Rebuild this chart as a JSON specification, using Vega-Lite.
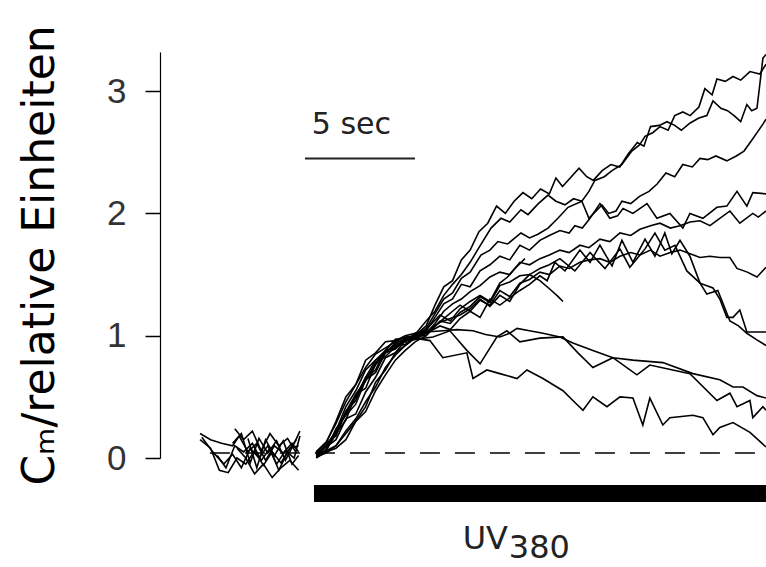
{
"$schema": "https://vega.github.io/schema/vega-lite/v6.json",
"width": 606, "height": 406,
"autosize": {"type": "none"},
"padding": {"left": 160, "top": 52, "right": 0, "bottom": 109},
"background": "white",
"config": {"view": {"stroke": null}},
"datasets": {
"traces": [
{"s":"P1","t":1.82,"v":0.2},{"s":"P1","t":2.3,"v":0.15},{"s":"P1","t":2.8,"v":0.12},{"s":"P1","t":3.3,"v":0.1},{"s":"P1","t":3.6,"v":0.18},{"s":"P1","t":4.0,"v":0.05},{"s":"P1","t":4.4,"v":0.12},{"s":"P1","t":4.8,"v":-0.02},{"s":"P1","t":5.2,"v":0.1},{"s":"P1","t":5.6,"v":0.04},{"s":"P1","t":6.0,"v":0.12},{"s":"P1","t":6.3,"v":0.05},
{"s":"P2","t":1.9,"v":0.17},{"s":"P2","t":2.4,"v":0.05},{"s":"P2","t":2.9,"v":-0.05},{"s":"P2","t":3.3,"v":0.03},{"s":"P2","t":3.7,"v":-0.08},{"s":"P2","t":4.1,"v":0.08},{"s":"P2","t":4.5,"v":0.0},{"s":"P2","t":4.9,"v":0.1},{"s":"P2","t":5.3,"v":-0.05},{"s":"P2","t":5.7,"v":0.06},{"s":"P2","t":6.1,"v":0.0},{"s":"P2","t":6.36,"v":0.18},
{"s":"P3","t":1.82,"v":0.15},{"s":"P3","t":2.3,"v":0.08},{"s":"P3","t":2.7,"v":-0.1},{"s":"P3","t":3.1,"v":-0.12},{"s":"P3","t":3.5,"v":0.0},{"s":"P3","t":3.9,"v":-0.05},{"s":"P3","t":4.3,"v":0.06},{"s":"P3","t":4.7,"v":-0.06},{"s":"P3","t":5.1,"v":0.05},{"s":"P3","t":5.5,"v":-0.04},{"s":"P3","t":5.9,"v":0.08},{"s":"P3","t":6.3,"v":0.1},
{"s":"P4","t":3.4,"v":0.24},{"s":"P4","t":3.8,"v":0.15},{"s":"P4","t":4.2,"v":0.22},{"s":"P4","t":4.6,"v":0.06},{"s":"P4","t":5.0,"v":0.2},{"s":"P4","t":5.4,"v":0.1},{"s":"P4","t":5.8,"v":0.16},{"s":"P4","t":6.2,"v":0.04},
{"s":"P5","t":3.3,"v":0.12},{"s":"P5","t":3.7,"v":0.2},{"s":"P5","t":4.1,"v":-0.04},{"s":"P5","t":4.5,"v":0.16},{"s":"P5","t":4.9,"v":0.04},{"s":"P5","t":5.3,"v":0.14},{"s":"P5","t":5.7,"v":-0.02},{"s":"P5","t":6.1,"v":0.12},{"s":"P5","t":6.36,"v":0.22},
{"s":"P6","t":3.5,"v":0.08},{"s":"P6","t":3.9,"v":0.0},{"s":"P6","t":4.3,"v":-0.13},{"s":"P6","t":4.7,"v":-0.05},{"s":"P6","t":5.1,"v":-0.16},{"s":"P6","t":5.5,"v":-0.08},{"s":"P6","t":5.9,"v":-0.02},{"s":"P6","t":6.3,"v":-0.1},
{"s":"P7","t":2.6,"v":0.02},{"s":"P7","t":3.0,"v":-0.08},{"s":"P7","t":3.4,"v":0.1},{"s":"P7","t":3.8,"v":0.05},{"s":"P7","t":4.2,"v":0.12},{"s":"P7","t":4.6,"v":-0.02},{"s":"P7","t":5.0,"v":0.08},{"s":"P7","t":5.4,"v":-0.1},{"s":"P7","t":5.8,"v":0.05},{"s":"P7","t":6.2,"v":0.15},
{"s":"P8","t":4.0,"v":0.16},{"s":"P8","t":4.4,"v":-0.08},{"s":"P8","t":4.8,"v":0.15},{"s":"P8","t":5.2,"v":0.02},{"s":"P8","t":5.6,"v":0.14},{"s":"P8","t":6.0,"v":-0.05},{"s":"P8","t":6.3,"v":0.02},

{"s":"T1","t":7.1,"v":0.05},{"s":"T1","t":7.55,"v":0.12},{"s":"T1","t":8.0,"v":0.18},{"s":"T1","t":8.45,"v":0.38},{"s":"T1","t":8.9,"v":0.47},{"s":"T1","t":9.35,"v":0.66},{"s":"T1","t":9.8,"v":0.72},{"s":"T1","t":10.25,"v":0.88},{"s":"T1","t":10.7,"v":0.9},{"s":"T1","t":11.15,"v":0.98},{"s":"T1","t":11.6,"v":1.0},
{"s":"T1","t":12.1,"v":1.08},{"s":"T1","t":12.5,"v":1.25},{"s":"T1","t":12.9,"v":1.4},{"s":"T1","t":13.3,"v":1.45},{"s":"T1","t":13.7,"v":1.62},{"s":"T1","t":14.1,"v":1.7},{"s":"T1","t":14.5,"v":1.85},{"s":"T1","t":14.9,"v":1.92},{"s":"T1","t":15.3,"v":2.06},{"s":"T1","t":15.7,"v":2.0},{"s":"T1","t":16.1,"v":2.1},{"s":"T1","t":16.5,"v":2.17},{"s":"T1","t":16.9,"v":2.12},{"s":"T1","t":17.3,"v":2.2},{"s":"T1","t":17.7,"v":2.16},{"s":"T1","t":18.0,"v":2.29},{"s":"T1","t":18.3,"v":2.22},{"s":"T1","t":18.7,"v":2.3},{"s":"T1","t":19.05,"v":2.37},{"s":"T1","t":19.4,"v":2.3},{"s":"T1","t":19.7,"v":2.27},{"s":"T1","t":20.1,"v":2.35},{"s":"T1","t":20.5,"v":2.4},{"s":"T1","t":20.9,"v":2.38},{"s":"T1","t":21.3,"v":2.49},{"s":"T1","t":21.7,"v":2.58},{"s":"T1","t":22.0,"v":2.55},{"s":"T1","t":22.3,"v":2.71},{"s":"T1","t":22.7,"v":2.72},{"s":"T1","t":23.05,"v":2.75},{"s":"T1","t":23.4,"v":2.72},{"s":"T1","t":23.7,"v":2.68},{"s":"T1","t":24.1,"v":2.74},{"s":"T1","t":24.5,"v":2.78},{"s":"T1","t":24.86,"v":2.8},{"s":"T1","t":25.14,"v":2.92},{"s":"T1","t":25.5,"v":2.86},{"s":"T1","t":25.8,"v":2.84},{"s":"T1","t":26.1,"v":2.8},{"s":"T1","t":26.4,"v":2.75},{"s":"T1","t":26.68,"v":2.89},{"s":"T1","t":26.9,"v":2.84},{"s":"T1","t":27.14,"v":2.86},{"s":"T1","t":27.41,"v":3.27},{"s":"T1","t":27.55,"v":3.3},

{"s":"T2","t":7.1,"v":0.02},{"s":"T2","t":7.55,"v":0.1},{"s":"T2","t":8.0,"v":0.22},{"s":"T2","t":8.45,"v":0.42},{"s":"T2","t":8.9,"v":0.55},{"s":"T2","t":9.35,"v":0.72},{"s":"T2","t":9.8,"v":0.8},{"s":"T2","t":10.25,"v":0.86},{"s":"T2","t":10.7,"v":0.93},{"s":"T2","t":11.15,"v":0.95},{"s":"T2","t":11.6,"v":1.01},
{"s":"T2","t":12.1,"v":1.12},{"s":"T2","t":12.5,"v":1.2},{"s":"T2","t":12.9,"v":1.33},{"s":"T2","t":13.3,"v":1.42},{"s":"T2","t":13.7,"v":1.5},{"s":"T2","t":14.1,"v":1.6},{"s":"T2","t":14.5,"v":1.72},{"s":"T2","t":15.05,"v":1.88},{"s":"T2","t":15.5,"v":1.96},{"s":"T2","t":15.9,"v":1.93},{"s":"T2","t":16.41,"v":2.03},{"s":"T2","t":16.73,"v":1.99},{"s":"T2","t":17.2,"v":2.08},{"s":"T2","t":17.64,"v":2.15},{"s":"T2","t":18.0,"v":2.1},{"s":"T2","t":18.41,"v":2.07},{"s":"T2","t":18.8,"v":2.12},{"s":"T2","t":19.18,"v":2.1},{"s":"T2","t":19.5,"v":2.18},{"s":"T2","t":19.77,"v":2.27},{"s":"T2","t":20.2,"v":2.3},{"s":"T2","t":20.55,"v":2.35},{"s":"T2","t":21.0,"v":2.4},{"s":"T2","t":21.45,"v":2.51},{"s":"T2","t":21.8,"v":2.56},{"s":"T2","t":22.05,"v":2.63},{"s":"T2","t":22.4,"v":2.66},{"s":"T2","t":22.73,"v":2.71},{"s":"T2","t":23.1,"v":2.68},{"s":"T2","t":23.4,"v":2.8},{"s":"T2","t":23.77,"v":2.83},{"s":"T2","t":24.1,"v":2.8},{"s":"T2","t":24.5,"v":2.87},{"s":"T2","t":24.77,"v":3.02},{"s":"T2","t":25.1,"v":2.97},{"s":"T2","t":25.32,"v":3.1},{"s":"T2","t":25.7,"v":3.08},{"s":"T2","t":26.05,"v":3.12},{"s":"T2","t":26.4,"v":3.09},{"s":"T2","t":26.82,"v":3.16},{"s":"T2","t":27.27,"v":3.14},{"s":"T2","t":27.55,"v":3.22},

{"s":"T3","t":7.1,"v":0.04},{"s":"T3","t":7.55,"v":0.06},{"s":"T3","t":8.0,"v":0.24},{"s":"T3","t":8.45,"v":0.35},{"s":"T3","t":8.9,"v":0.44},{"s":"T3","t":9.35,"v":0.64},{"s":"T3","t":9.8,"v":0.7},{"s":"T3","t":10.25,"v":0.86},{"s":"T3","t":10.7,"v":0.89},{"s":"T3","t":11.15,"v":0.97},{"s":"T3","t":11.6,"v":0.99},
{"s":"T3","t":12.1,"v":1.06},{"s":"T3","t":12.5,"v":1.18},{"s":"T3","t":12.9,"v":1.3},{"s":"T3","t":13.3,"v":1.35},{"s":"T3","t":13.7,"v":1.47},{"s":"T3","t":14.1,"v":1.52},{"s":"T3","t":14.59,"v":1.66},{"s":"T3","t":15.0,"v":1.7},{"s":"T3","t":15.36,"v":1.77},{"s":"T3","t":15.8,"v":1.75},{"s":"T3","t":16.41,"v":1.84},{"s":"T3","t":16.8,"v":1.8},{"s":"T3","t":17.18,"v":1.83},{"s":"T3","t":17.64,"v":1.88},{"s":"T3","t":18.09,"v":1.96},{"s":"T3","t":18.55,"v":2.05},{"s":"T3","t":19.18,"v":2.1},{"s":"T3","t":19.5,"v":1.96},{"s":"T3","t":20.09,"v":2.07},{"s":"T3","t":20.4,"v":2.0},{"s":"T3","t":20.73,"v":2.02},{"s":"T3","t":21.0,"v":2.1},{"s":"T3","t":21.4,"v":2.08},{"s":"T3","t":21.8,"v":2.14},{"s":"T3","t":22.23,"v":2.18},{"s":"T3","t":22.6,"v":2.24},{"s":"T3","t":23.0,"v":2.33},{"s":"T3","t":23.4,"v":2.3},{"s":"T3","t":23.77,"v":2.4},{"s":"T3","t":24.2,"v":2.38},{"s":"T3","t":24.55,"v":2.45},{"s":"T3","t":24.9,"v":2.44},{"s":"T3","t":25.27,"v":2.47},{"s":"T3","t":25.77,"v":2.43},{"s":"T3","t":26.2,"v":2.47},{"s":"T3","t":26.55,"v":2.51},{"s":"T3","t":26.95,"v":2.61},{"s":"T3","t":27.41,"v":2.73},{"s":"T3","t":27.55,"v":2.77},

{"s":"T4","t":7.1,"v":0.01},{"s":"T4","t":7.55,"v":0.04},{"s":"T4","t":8.0,"v":0.1},{"s":"T4","t":8.45,"v":0.2},{"s":"T4","t":8.9,"v":0.3},{"s":"T4","t":9.35,"v":0.42},{"s":"T4","t":9.8,"v":0.62},{"s":"T4","t":10.25,"v":0.72},{"s":"T4","t":10.7,"v":0.86},{"s":"T4","t":11.15,"v":0.92},{"s":"T4","t":11.6,"v":0.99},
{"s":"T4","t":12.1,"v":1.04},{"s":"T4","t":12.5,"v":1.15},{"s":"T4","t":12.9,"v":1.26},{"s":"T4","t":13.3,"v":1.3},{"s":"T4","t":13.7,"v":1.42},{"s":"T4","t":14.1,"v":1.4},{"s":"T4","t":14.55,"v":1.53},{"s":"T4","t":15.0,"v":1.58},{"s":"T4","t":15.45,"v":1.65},{"s":"T4","t":15.9,"v":1.62},{"s":"T4","t":16.36,"v":1.74},{"s":"T4","t":16.8,"v":1.7},{"s":"T4","t":17.27,"v":1.78},{"s":"T4","t":17.7,"v":1.82},{"s":"T4","t":18.18,"v":1.86},{"s":"T4","t":18.6,"v":1.84},{"s":"T4","t":18.86,"v":1.9},{"s":"T4","t":19.2,"v":1.88},{"s":"T4","t":19.55,"v":1.96},{"s":"T4","t":20.0,"v":2.08},{"s":"T4","t":20.45,"v":1.96},{"s":"T4","t":20.8,"v":1.98},{"s":"T4","t":21.05,"v":2.04},{"s":"T4","t":21.5,"v":2.0},{"s":"T4","t":22.14,"v":2.08},{"s":"T4","t":22.59,"v":1.96},{"s":"T4","t":23.18,"v":2.0},{"s":"T4","t":23.77,"v":1.88},{"s":"T4","t":24.09,"v":2.0},{"s":"T4","t":24.68,"v":1.96},{"s":"T4","t":25.32,"v":2.05},{"s":"T4","t":25.77,"v":2.06},{"s":"T4","t":26.23,"v":2.18},{"s":"T4","t":26.68,"v":2.06},{"s":"T4","t":26.95,"v":2.17},{"s":"T4","t":27.55,"v":2.16},

{"s":"T5","t":7.1,"v":0.03},{"s":"T5","t":7.55,"v":0.09},{"s":"T5","t":8.0,"v":0.15},{"s":"T5","t":8.45,"v":0.32},{"s":"T5","t":8.9,"v":0.36},{"s":"T5","t":9.35,"v":0.54},{"s":"T5","t":9.8,"v":0.66},{"s":"T5","t":10.25,"v":0.82},{"s":"T5","t":10.7,"v":0.86},{"s":"T5","t":11.15,"v":0.96},{"s":"T5","t":11.6,"v":0.97},
{"s":"T5","t":12.1,"v":1.02},{"s":"T5","t":12.5,"v":1.1},{"s":"T5","t":12.9,"v":1.2},{"s":"T5","t":13.3,"v":1.26},{"s":"T5","t":13.7,"v":1.3},{"s":"T5","t":14.1,"v":1.36},{"s":"T5","t":14.55,"v":1.41},{"s":"T5","t":15.0,"v":1.48},{"s":"T5","t":15.45,"v":1.52},{"s":"T5","t":15.9,"v":1.5},{"s":"T5","t":16.36,"v":1.6},{"s":"T5","t":16.8,"v":1.58},{"s":"T5","t":17.27,"v":1.63},{"s":"T5","t":17.7,"v":1.66},{"s":"T5","t":18.18,"v":1.7},{"s":"T5","t":18.6,"v":1.68},{"s":"T5","t":19.09,"v":1.74},{"s":"T5","t":19.5,"v":1.72},{"s":"T5","t":20.0,"v":1.79},{"s":"T5","t":20.45,"v":1.77},{"s":"T5","t":20.91,"v":1.84},{"s":"T5","t":21.4,"v":1.82},{"s":"T5","t":21.82,"v":1.87},{"s":"T5","t":22.3,"v":1.9},{"s":"T5","t":22.73,"v":1.92},{"s":"T5","t":23.2,"v":1.88},{"s":"T5","t":23.64,"v":1.9},{"s":"T5","t":24.1,"v":1.93},{"s":"T5","t":24.55,"v":1.94},{"s":"T5","t":25.0,"v":1.9},{"s":"T5","t":25.45,"v":1.96},{"s":"T5","t":25.91,"v":2.02},{"s":"T5","t":26.36,"v":1.92},{"s":"T5","t":26.95,"v":2.0},{"s":"T5","t":27.2,"v":1.97},{"s":"T5","t":27.55,"v":2.02},

{"s":"T6","t":7.1,"v":0.02},{"s":"T6","t":7.55,"v":0.06},{"s":"T6","t":8.0,"v":0.2},{"s":"T6","t":8.45,"v":0.31},{"s":"T6","t":8.9,"v":0.52},{"s":"T6","t":9.35,"v":0.57},{"s":"T6","t":9.8,"v":0.77},{"s":"T6","t":10.25,"v":0.83},{"s":"T6","t":10.7,"v":0.91},{"s":"T6","t":11.15,"v":0.93},{"s":"T6","t":11.6,"v":1.0},
{"s":"T6","t":12.1,"v":1.0},{"s":"T6","t":12.5,"v":1.08},{"s":"T6","t":12.9,"v":1.14},{"s":"T6","t":13.3,"v":1.2},{"s":"T6","t":13.64,"v":1.25},{"s":"T6","t":14.1,"v":1.2},{"s":"T6","t":14.55,"v":1.29},{"s":"T6","t":15.0,"v":1.25},{"s":"T6","t":15.45,"v":1.37},{"s":"T6","t":15.9,"v":1.32},{"s":"T6","t":16.36,"v":1.43},{"s":"T6","t":16.8,"v":1.46},{"s":"T6","t":17.27,"v":1.52},{"s":"T6","t":17.7,"v":1.5},{"s":"T6","t":18.18,"v":1.57},{"s":"T6","t":18.6,"v":1.55},{"s":"T6","t":19.09,"v":1.6},{"s":"T6","t":19.5,"v":1.62},{"s":"T6","t":20.0,"v":1.63},{"s":"T6","t":20.45,"v":1.6},{"s":"T6","t":20.91,"v":1.65},{"s":"T6","t":21.4,"v":1.68},{"s":"T6","t":21.82,"v":1.66},{"s":"T6","t":22.3,"v":1.7},{"s":"T6","t":22.73,"v":1.65},{"s":"T6","t":23.2,"v":1.68},{"s":"T6","t":23.64,"v":1.7},{"s":"T6","t":24.1,"v":1.67},{"s":"T6","t":24.55,"v":1.64},{"s":"T6","t":25.0,"v":1.65},{"s":"T6","t":25.45,"v":1.64},{"s":"T6","t":25.91,"v":1.64},{"s":"T6","t":26.23,"v":1.55},{"s":"T6","t":26.7,"v":1.52},{"s":"T6","t":27.14,"v":1.48},{"s":"T6","t":27.55,"v":1.56},

{"s":"T7","t":7.1,"v":0.05},{"s":"T7","t":7.55,"v":0.13},{"s":"T7","t":8.0,"v":0.28},{"s":"T7","t":8.45,"v":0.46},{"s":"T7","t":8.9,"v":0.6},{"s":"T7","t":9.35,"v":0.74},{"s":"T7","t":9.8,"v":0.85},{"s":"T7","t":10.25,"v":0.9},{"s":"T7","t":10.7,"v":0.95},{"s":"T7","t":11.15,"v":0.99},{"s":"T7","t":11.6,"v":1.0},
{"s":"T7","t":12.1,"v":1.02},{"s":"T7","t":12.73,"v":1.08},{"s":"T7","t":13.2,"v":1.05},{"s":"T7","t":13.64,"v":1.14},{"s":"T7","t":14.1,"v":1.2},{"s":"T7","t":14.55,"v":1.15},{"s":"T7","t":15.0,"v":1.3},{"s":"T7","t":15.45,"v":1.25},{"s":"T7","t":15.9,"v":1.31},{"s":"T7","t":16.36,"v":1.37},{"s":"T7","t":16.8,"v":1.42},{"s":"T7","t":17.27,"v":1.49},{"s":"T7","t":17.6,"v":1.45},{"s":"T7","t":17.95,"v":1.6},{"s":"T7","t":18.41,"v":1.53},{"s":"T7","t":19.09,"v":1.7},{"s":"T7","t":19.55,"v":1.6},{"s":"T7","t":20.0,"v":1.74},{"s":"T7","t":20.55,"v":1.57},{"s":"T7","t":21.0,"v":1.78},{"s":"T7","t":21.5,"v":1.6},{"s":"T7","t":22.05,"v":1.79},{"s":"T7","t":22.5,"v":1.65},{"s":"T7","t":22.95,"v":1.84},{"s":"T7","t":23.27,"v":1.67},{"s":"T7","t":23.64,"v":1.78},{"s":"T7","t":24.09,"v":1.65},{"s":"T7","t":24.55,"v":1.43},{"s":"T7","t":25.14,"v":1.39},{"s":"T7","t":25.45,"v":1.3},{"s":"T7","t":25.77,"v":1.15},{"s":"T7","t":26.05,"v":1.15},{"s":"T7","t":26.36,"v":1.21},{"s":"T7","t":26.68,"v":1.03},{"s":"T7","t":27.1,"v":1.03},{"s":"T7","t":27.55,"v":1.03},

{"s":"T8","t":7.1,"v":0.0},{"s":"T8","t":7.55,"v":0.05},{"s":"T8","t":8.0,"v":0.08},{"s":"T8","t":8.45,"v":0.15},{"s":"T8","t":8.9,"v":0.3},{"s":"T8","t":9.35,"v":0.38},{"s":"T8","t":9.8,"v":0.55},{"s":"T8","t":10.25,"v":0.68},{"s":"T8","t":10.7,"v":0.8},{"s":"T8","t":11.15,"v":0.88},{"s":"T8","t":11.6,"v":0.95},
{"s":"T8","t":12.1,"v":1.0},{"s":"T8","t":12.73,"v":1.12},{"s":"T8","t":13.2,"v":1.1},{"s":"T8","t":13.64,"v":1.19},{"s":"T8","t":14.1,"v":1.24},{"s":"T8","t":14.55,"v":1.32},{"s":"T8","t":15.0,"v":1.27},{"s":"T8","t":15.45,"v":1.41},{"s":"T8","t":15.9,"v":1.44},{"s":"T8","t":16.36,"v":1.49},{"s":"T8","t":16.8,"v":1.5},{"s":"T8","t":17.27,"v":1.55},{"s":"T8","t":17.7,"v":1.58},{"s":"T8","t":18.18,"v":1.63},{"s":"T8","t":18.86,"v":1.53},{"s":"T8","t":19.55,"v":1.68},{"s":"T8","t":20.23,"v":1.55},{"s":"T8","t":20.91,"v":1.71},{"s":"T8","t":21.36,"v":1.56},{"s":"T8","t":22.05,"v":1.71},{"s":"T8","t":22.5,"v":1.84},{"s":"T8","t":22.95,"v":1.7},{"s":"T8","t":23.41,"v":1.74},{"s":"T8","t":23.95,"v":1.53},{"s":"T8","t":24.55,"v":1.43},{"s":"T8","t":24.86,"v":1.34},{"s":"T8","t":25.36,"v":1.37},{"s":"T8","t":25.91,"v":1.12},{"s":"T8","t":26.3,"v":1.08},{"s":"T8","t":26.68,"v":1.02},{"s":"T8","t":27.1,"v":0.97},{"s":"T8","t":27.55,"v":0.92},

{"s":"T9","t":7.1,"v":0.03},{"s":"T9","t":7.55,"v":0.1},{"s":"T9","t":8.0,"v":0.2},{"s":"T9","t":8.45,"v":0.38},{"s":"T9","t":8.9,"v":0.52},{"s":"T9","t":9.35,"v":0.64},{"s":"T9","t":9.8,"v":0.76},{"s":"T9","t":10.25,"v":0.87},{"s":"T9","t":10.7,"v":0.92},{"s":"T9","t":11.15,"v":0.95},{"s":"T9","t":11.6,"v":1.02},
{"s":"T9","t":12.1,"v":1.05},{"s":"T9","t":12.73,"v":1.17},{"s":"T9","t":13.2,"v":1.12},{"s":"T9","t":13.64,"v":1.22},{"s":"T9","t":14.1,"v":1.28},{"s":"T9","t":14.55,"v":1.33},{"s":"T9","t":15.0,"v":1.28},{"s":"T9","t":15.45,"v":1.43},{"s":"T9","t":15.8,"v":1.48},{"s":"T9","t":16.14,"v":1.55},{"s":"T9","t":16.59,"v":1.63},

{"s":"T10","t":7.1,"v":0.02},{"s":"T10","t":7.55,"v":0.06},{"s":"T10","t":8.0,"v":0.1},{"s":"T10","t":8.45,"v":0.22},{"s":"T10","t":8.9,"v":0.32},{"s":"T10","t":9.35,"v":0.46},{"s":"T10","t":9.8,"v":0.58},{"s":"T10","t":10.25,"v":0.74},{"s":"T10","t":10.7,"v":0.84},{"s":"T10","t":11.15,"v":0.92},{"s":"T10","t":11.6,"v":0.98},
{"s":"T10","t":12.1,"v":1.03},{"s":"T10","t":12.73,"v":1.11},{"s":"T10","t":13.2,"v":1.14},{"s":"T10","t":13.64,"v":1.17},{"s":"T10","t":14.1,"v":1.22},{"s":"T10","t":14.55,"v":1.3},{"s":"T10","t":15.0,"v":1.24},{"s":"T10","t":15.45,"v":1.33},{"s":"T10","t":15.9,"v":1.28},{"s":"T10","t":16.36,"v":1.42},{"s":"T10","t":16.8,"v":1.5},{"s":"T10","t":17.27,"v":1.45},{"s":"T10","t":17.73,"v":1.38},{"s":"T10","t":18.1,"v":1.32},{"s":"T10","t":18.32,"v":1.28},

{"s":"L1","t":7.1,"v":0.04},{"s":"L1","t":7.55,"v":0.12},{"s":"L1","t":8.0,"v":0.3},{"s":"L1","t":8.45,"v":0.5},{"s":"L1","t":8.9,"v":0.6},{"s":"L1","t":9.35,"v":0.8},{"s":"L1","t":9.8,"v":0.86},{"s":"L1","t":10.25,"v":0.95},{"s":"L1","t":10.7,"v":0.96},{"s":"L1","t":11.15,"v":1.0},{"s":"L1","t":11.6,"v":1.02},
{"s":"L1","t":12.1,"v":1.03},{"s":"L1","t":12.86,"v":1.04},{"s":"L1","t":13.5,"v":1.05},{"s":"L1","t":14.23,"v":1.04},{"s":"L1","t":14.8,"v":1.01},{"s":"L1","t":15.45,"v":0.99},{"s":"L1","t":15.9,"v":1.02},{"s":"L1","t":16.23,"v":1.06},{"s":"L1","t":16.8,"v":1.04},{"s":"L1","t":17.41,"v":1.02},{"s":"L1","t":18.18,"v":0.99},{"s":"L1","t":18.77,"v":0.94},{"s":"L1","t":19.68,"v":0.88},{"s":"L1","t":20.59,"v":0.82},{"s":"L1","t":21.5,"v":0.8},{"s":"L1","t":22.86,"v":0.78},{"s":"L1","t":24.23,"v":0.69},{"s":"L1","t":25.45,"v":0.64},{"s":"L1","t":26.05,"v":0.58},{"s":"L1","t":26.5,"v":0.58},{"s":"L1","t":27.14,"v":0.51},{"s":"L1","t":27.55,"v":0.49},

{"s":"L2","t":7.1,"v":0.01},{"s":"L2","t":7.55,"v":0.07},{"s":"L2","t":8.0,"v":0.2},{"s":"L2","t":8.45,"v":0.37},{"s":"L2","t":8.9,"v":0.5},{"s":"L2","t":9.35,"v":0.66},{"s":"L2","t":9.8,"v":0.8},{"s":"L2","t":10.25,"v":0.88},{"s":"L2","t":10.7,"v":0.97},{"s":"L2","t":11.15,"v":0.98},{"s":"L2","t":11.6,"v":0.97},
{"s":"L2","t":12.41,"v":0.99},{"s":"L2","t":13.18,"v":1.04},{"s":"L2","t":13.95,"v":0.88},{"s":"L2","t":14.55,"v":0.77},{"s":"L2","t":15.32,"v":0.99},{"s":"L2","t":15.77,"v":1.04},{"s":"L2","t":16.36,"v":0.95},{"s":"L2","t":17.27,"v":0.98},{"s":"L2","t":18.32,"v":0.99},{"s":"L2","t":19.0,"v":0.86},{"s":"L2","t":19.68,"v":0.74},{"s":"L2","t":20.59,"v":0.82},{"s":"L2","t":21.68,"v":0.68},{"s":"L2","t":22.27,"v":0.76},{"s":"L2","t":24.09,"v":0.69},{"s":"L2","t":25.32,"v":0.47},{"s":"L2","t":25.91,"v":0.53},{"s":"L2","t":26.23,"v":0.42},{"s":"L2","t":26.82,"v":0.47},{"s":"L2","t":26.95,"v":0.33},{"s":"L2","t":27.41,"v":0.42},{"s":"L2","t":27.55,"v":0.39},

{"s":"L3","t":7.1,"v":0.03},{"s":"L3","t":7.55,"v":0.09},{"s":"L3","t":8.0,"v":0.22},{"s":"L3","t":8.45,"v":0.36},{"s":"L3","t":8.9,"v":0.5},{"s":"L3","t":9.35,"v":0.63},{"s":"L3","t":9.8,"v":0.78},{"s":"L3","t":10.25,"v":0.86},{"s":"L3","t":10.7,"v":0.94},{"s":"L3","t":11.15,"v":0.97},{"s":"L3","t":11.6,"v":0.98},
{"s":"L3","t":12.27,"v":0.96},{"s":"L3","t":12.86,"v":0.82},{"s":"L3","t":13.95,"v":0.86},{"s":"L3","t":14.23,"v":0.65},{"s":"L3","t":14.86,"v":0.72},{"s":"L3","t":15.45,"v":0.69},{"s":"L3","t":16.23,"v":0.65},{"s":"L3","t":16.68,"v":0.72},{"s":"L3","t":17.41,"v":0.65},{"s":"L3","t":18.32,"v":0.55},{"s":"L3","t":18.77,"v":0.47},{"s":"L3","t":19.23,"v":0.39},{"s":"L3","t":19.68,"v":0.5},{"s":"L3","t":20.32,"v":0.42},{"s":"L3","t":20.91,"v":0.5},{"s":"L3","t":21.5,"v":0.49},{"s":"L3","t":21.95,"v":0.27},{"s":"L3","t":22.27,"v":0.49},{"s":"L3","t":22.86,"v":0.27},{"s":"L3","t":23.18,"v":0.33},{"s":"L3","t":24.23,"v":0.35},{"s":"L3","t":24.68,"v":0.33},{"s":"L3","t":25.14,"v":0.19},{"s":"L3","t":25.45,"v":0.25},{"s":"L3","t":26.05,"v":0.29},{"s":"L3","t":26.82,"v":0.21},{"s":"L3","t":27.55,"v":0.09}
],
"baseline": [{"t": 2.27, "v": 0.04}, {"t": 27.55, "v": 0.04}],
"bar": [{"t": 7.0, "t2": 27.55, "v": -0.22, "v2": -0.36}],
"scalebar": [{"t": 6.59, "t2": 11.59, "v": 2.45}],
"labels": [{"t": 6.9, "v": 2.65, "label": "5 sec"}],
"uv": [{"t": 15.82, "v": -0.745, "label": "UV"}],
"uvsub": [{"t": 15.86, "v": -0.815, "label": "380"}]
},
"encoding": {
  "x": {"field": "t", "type": "quantitative", "scale": {"domain": [0, 27.55], "nice": false, "zero": false}, "axis": null},
  "y": {"field": "v", "type": "quantitative", "scale": {"domain": [0, 3.32], "nice": false, "zero": false},
        "axis": {"values": [0, 1, 2, 3], "grid": false, "tickSize": 15, "tickWidth": 1.5, "tickColor": "black", "domainColor": "black", "domainWidth": 1.2,
                 "labelFont": "Liberation Sans", "labelFontSize": 35, "labelColor": "#333", "labelPadding": 19,
                 "title": "Cₘ/relative Einheiten", "titleFont": "DejaVu Sans", "titleFontSize": 44, "titleFontWeight": "normal", "titleColor": "black", "titlePadding": 44}}
},
"layer": [
  {"data": {"name": "traces"}, "mark": {"type": "line", "color": "black", "strokeWidth": 1.6, "clip": false}, "encoding": {"detail": {"field": "s", "type": "nominal"}}},
  {"data": {"name": "baseline"}, "mark": {"type": "line", "color": "black", "strokeWidth": 1.5, "strokeDash": [20, 15]}, "encoding": {}},
  {"data": {"name": "bar"}, "mark": {"type": "rect", "color": "black"}, "encoding": {"x2": {"field": "t2"}, "y2": {"field": "v2"}}},
  {"data": {"name": "scalebar"}, "mark": {"type": "rule", "color": "#222", "strokeWidth": 2}, "encoding": {"x2": {"field": "t2"}}},
  {"data": {"name": "labels"}, "mark": {"type": "text", "align": "left", "baseline": "alphabetic", "font": "DejaVu Sans", "fontSize": 30, "color": "#222"}, "encoding": {"text": {"field": "label"}}},
  {"data": {"name": "uv"}, "mark": {"type": "text", "align": "right", "baseline": "alphabetic", "font": "DejaVu Sans", "fontSize": 32, "color": "#222"}, "encoding": {"text": {"field": "label"}}},
  {"data": {"name": "uvsub"}, "mark": {"type": "text", "align": "left", "baseline": "alphabetic", "font": "DejaVu Sans", "fontSize": 32, "color": "#222"}, "encoding": {"text": {"field": "label"}}}
]
}
